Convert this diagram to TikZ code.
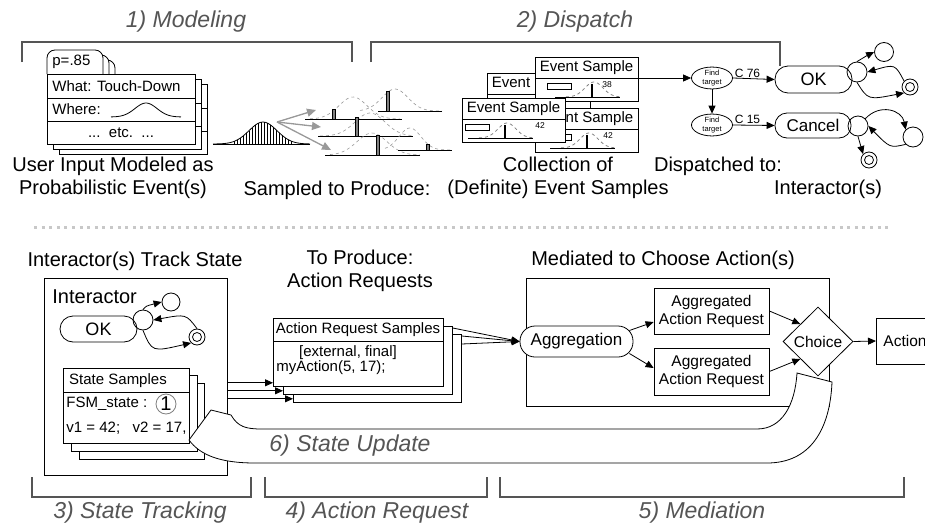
\documentclass[tikz,border=0pt]{standalone}
\usepackage{fontspec}
\setmainfont{Liberation Sans}
\usetikzlibrary{arrows.meta,shapes.geometric,calc}
\definecolor{sec}{HTML}{555555}
\definecolor{dgray}{HTML}{999999}
\definecolor{sepc}{HTML}{C8C8C8}

\newcommand{\gss}[7]{\draw[#7] plot[domain=#5:#6,samples=40,smooth] (\x,{#3-(#3-#2)*exp(-((\x-#1)/#4)*((\x-#1)/#4)/2)});}

% event sample box: name, x, y, number, rect offset, bar offset, number offset
\newcommand{\evsample}[7]{%
  \node[draw,fill=white,minimum width=103pt,minimum height=44pt,inner sep=0,anchor=north west] (#1) at (#2,#3) {};
  \draw (#2,#3+21) -- (#2+103,#3+21);
  \node[txt15,anchor=north] (#1t) at (#2+51.5,#3+3) {Event Sample};
  \draw[line width=0.6pt] (#2+#5,#3+26) rectangle (#2+#5+24,#3+32);
  \begin{scope}[shift={(#2+#6,#3)}]
    \draw[evcurve] plot[domain=-26:30,samples=40,smooth] (\x,{40-15*exp(-((\x-2)/9)*((\x-2)/9)/2)});
  \end{scope}
  \draw (#2+#6-37,#3+40) -- (#2+#6+28,#3+40);
  \draw[line width=2pt] (#2+#6,#3+27) -- (#2+#6,#3+40);
  \node[font=\fontsize{8.5}{8.5}\selectfont,inner sep=0] (#1n) at (#2+#7,#3+28) {#4};
}

% stacked modeling card
\newcommand{\mcard}[2]{%
  \begin{scope}[shift={(#1,#2)}]
    \draw[fill=white,rounded corners=8pt] (47,74) -- (47,50) -- (103,50) -- (103,74);
    \draw[fill=white] (47,74) rectangle (195,144);
    \draw (47,98) -- (195,98) (47,121) -- (195,121);
  \end{scope}}

\begin{document}
\begin{tikzpicture}[x=1pt,y=-1pt,line width=0.8pt,
  seclbl/.style={text=sec,font=\fontsize{23}{26}\selectfont\itshape,inner sep=0},
  captxt/.style={font=\fontsize{20}{23}\selectfont,inner sep=0,align=center},
  brk/.style={draw=sec,line width=1.7pt},
  ar/.style={-{Triangle[length=8pt,width=7pt]}},
  gar/.style={draw=dgray,line width=1.3pt,-{Triangle[length=9pt,width=8pt]}},
  txt15/.style={font=\fontsize{15}{17}\selectfont,inner sep=0},
  stc/.style={draw,circle,inner sep=0},
  pill/.style={draw,fill=white,rounded corners=13pt,inner sep=0},
  sbox/.style={draw,fill=white,inner sep=0},
  evcurve/.style={draw=gray,dashed,line width=0.8pt},
]
\useasboundingbox (0,0) rectangle (925,527);

% ---------------- section labels and brackets (top)
\node[seclbl] (l1) at (186,22) {1) Modeling};
\node[seclbl] (l2) at (575,22) {2) Dispatch};
\draw[brk] (22,62) -- (22,42) -- (352,42) -- (352,62);
\draw[brk] (371,62) -- (371,42) -- (780,42) -- (780,66);

% ---------------- modeling card
\mcard{12}{10}
\mcard{6}{5}
\mcard{0}{0}
\node[txt15,anchor=west] (pval) at (52,62) {p=.85};
\node[txt15,anchor=west] (what) at (52,86) {What: Touch-Down};
\node[txt15,anchor=west] (where) at (52,109.5) {Where:};
\node[txt15] (etc) at (121,132.5) {...\ \ etc.\ \ ...};
\gss{146}{103}{117}{11}{111}{181}{black}
\node[captxt] (userinput) at (113,178) {User Input Modeled as\\Probabilistic Event(s)};

% ---------------- histogram
\draw (213,144) -- (310,144);
\gss{263}{122}{144}{14}{213}{310}{black}
\foreach \xx in {234,237,...,293} \draw[line width=0.6pt] (\xx,144) -- (\xx,{144-22*exp(-((\xx-263)/14)*((\xx-263)/14)/2)});
\coordinate (hsrc) at (277,122);
\coordinate (ht1) at (316,110);
\coordinate (ht2) at (321,127);
\coordinate (ht3) at (331,150);
\draw[gar] (hsrc) -- (ht1);
\draw[gar] (hsrc) -- (ht2);
\draw[gar] (hsrc) -- (ht3);

% sampled distributions
\tikzset{smp/.style={dgray,dashed,line width=0.6pt}, sbar/.style={fill=gray,draw=black,line width=0.5pt}}
\gss{353}{97}{119}{14}{310}{400}{smp}
\draw (305,119) -- (402,119);
\draw[sbar] (332.5,109) rectangle (335.5,119);
\gss{395}{89}{111}{13}{360}{442}{smp}
\draw (378,111) -- (442,111);
\draw[sbar] (386.5,91) rectangle (389.5,111);
\gss{370}{113}{136}{15}{320}{412}{smp}
\draw (318,136) -- (413,136);
\draw[sbar] (355.5,117) rectangle (358.5,136);
\gss{372}{133}{155}{15}{330}{420}{smp}
\draw (325,155) -- (420,155);
\draw[sbar] (376.5,135) rectangle (379.5,155);
\gss{410}{128}{150}{11}{385}{450}{smp}
\draw (398,150) -- (452,150);
\draw[sbar] (426.5,144) rectangle (429.5,150);
\node[captxt] (sampled) at (337,190) {Sampled to Produce:};

% ---------------- event samples
\evsample{evB}{487}{73}{42}{4}{50}{70}
\evsample{evA}{535}{57}{38}{12}{57}{72}
\evsample{evC}{535}{108}{42}{12}{52}{73}
\evsample{evD}{462}{98}{42}{3}{43}{78}
\node[captxt] (collection) at (558,178) {Collection of\\(Definite) Event Samples};

% ---------------- dispatch
\tikzset{fnd/.style={draw,ellipse,minimum width=41pt,minimum height=21pt,inner sep=0,align=center,font=\fontsize{7.5}{8.5}\selectfont}}
\node[fnd] (find1) at (712,78) {Find\\target};
\node[fnd] (find2) at (712,125) {Find\\target};
\node[pill,minimum width=77pt,minimum height=27pt,font=\fontsize{18}{18}\selectfont] (ok) at (813.5,79.5) {OK};
\node[pill,minimum width=76pt,minimum height=25pt,rounded corners=12pt,font=\fontsize{17}{17}\selectfont] (cancel) at (813,125.5) {Cancel};
\draw[ar] ([yshift=-21pt]evA.north east) -- (find1.west);
\draw[ar] (find1.south) -- (find2.north);
\draw[ar] (find1.east) -- node[above,pos=0.35,inner sep=1pt,font=\fontsize{12}{12}\selectfont] (c76) {C 76} (ok.west);
\draw[ar] (find2.east) -- node[above,pos=0.35,inner sep=1pt,font=\fontsize{12}{12}\selectfont] (c15) {C 15} (cancel.west);

% OK fsm (top)
\node[stc,minimum size=20pt] (a0) at (857,72) {};
\node[stc,minimum size=19pt] (a1) at (884,52) {};
\node[stc,minimum size=16pt] (a2) at (910,87) {};
\draw (a2.center) circle (4.5);
\draw[ar] (a0.north) .. controls (862,58) .. (a1.west);
\draw[ar] (a2.north west) .. controls (895,64) .. (a0.east);
\draw[ar] (a0.south) .. controls (868,100) .. (a2.south west);

% Cancel fsm (top)
\node[stc,minimum size=20pt] (b0) at (858,126) {};
\node[stc,minimum size=20pt] (b1) at (913,137) {};
\node[stc,minimum size=16pt] (b2) at (869,160) {};
\draw (b2.center) circle (4.5);
\draw[ar] (b0.north east) .. controls (880,103) and (902,110) .. (b1.north west);
\draw[ar] (b1.south west) .. controls (890,148) .. (b0.east);
\draw[ar] (b0.south) -- (b2.north west);

\node[captxt] (dispatched) at (718,166) {Dispatched to:};
\node[captxt] (interactors) at (828,189) {Interactor(s)};

% ---------------- separator
\draw[sepc,line width=3pt,dash pattern=on 3pt off 4.6pt] (34,227) -- (888,227);

% ---------------- state tracking
\node[captxt] (trackstate) at (135,261) {Interactor(s) Track State};
\node[draw,minimum width=183pt,minimum height=197pt,inner sep=0,anchor=north west] (ibox) at (44,278) {};
\node[inner sep=0,anchor=west,font=\fontsize{20}{20}\selectfont] (interactor) at (52,297) {Interactor};
\node[pill,minimum width=77pt,minimum height=26pt,font=\fontsize{18}{18}\selectfont] (ok2) at (98.5,329) {OK};
\node[stc,minimum size=20pt] (c0) at (143,320) {};
\node[stc,minimum size=18pt] (c1) at (171,302) {};
\node[stc,minimum size=16pt] (c2) at (197,337) {};
\draw (c2.center) circle (4.5);
\draw[ar] (c0.north) .. controls (146,306) .. (c1.west);
\draw[ar] (c2.north) .. controls (186,314) .. (c0.east);
\draw[ar] (c0.south) .. controls (152,352) .. (c2.south west);

% state samples stack
\node[sbox,minimum width=125pt,minimum height=76pt,anchor=north west] (ss3) at (79,383) {};
\node[sbox,minimum width=126pt,minimum height=76pt,anchor=north west] (ss2) at (71,375) {};
\node[sbox,minimum width=126pt,minimum height=75pt,anchor=north west] (ss1) at (63,368) {};
\draw (ss1.north west) ++(0,-24pt) -- ++(126pt,0);
\node[txt15] (sstitle) at (118,381) {State Samples};
\node[txt15,anchor=west] (fsm) at (66,404) {FSM\_state :};
\node[draw=gray,circle,minimum size=20pt,inner sep=0,font=\fontsize{20}{20}\selectfont] (one) at (166,404) {1};
\node[txt15,anchor=west] (vals) at (66,428) {v1 = 42;\ \ \ v2 = 17,};

% ---------------- action requests
\node[captxt] (toproduce) at (360,271) {To Produce:\\Action Requests};
\node[sbox,minimum width=168pt,minimum height=68pt,anchor=north west] (ars3) at (293,334) {};
\node[sbox,minimum width=169pt,minimum height=68pt,anchor=north west] (ars2) at (283,326) {};
\node[sbox,minimum width=170pt,minimum height=68pt,anchor=north west] (ars1) at (273,318) {};
\draw (ars1.north west) ++(0,-23pt) -- ++(170pt,0);
\node[txt15] (arstitle) at (358,330) {Action Request Samples};
\node[txt15] (extfinal) at (348,353) {[external, final]};
\node[txt15,anchor=west] (myaction) at (276,368) {myAction(5, 17);};

\coordinate (t1) at ([yshift=4pt]ars1.south west);
\coordinate (t2) at ([yshift=4pt]ars2.south west);
\coordinate (t3) at ([yshift=4pt]ars3.south west);
\draw[ar] (ibox.east |- t1) -- (t1);
\draw[ar] (ibox.east |- t2) -- (t2);
\draw[ar] (ibox.east |- t3) -- (t3);

% ---------------- mediation
\node[captxt] (mediated) at (663,260) {Mediated to Choose Action(s)};
\node[draw,minimum width=303pt,minimum height=128pt,inner sep=0,anchor=north west] (mbox) at (526,278) {};
\node[pill,minimum width=113pt,minimum height=31pt,rounded corners=15pt,font=\fontsize{17}{17}\selectfont] (agg) at (576.5,341.5) {Aggregation};
\node[sbox,minimum width=115pt,minimum height=46pt,align=center,font=\fontsize{15.5}{18}\selectfont] (aar1) at (711.5,311) {Aggregated\\Action Request};
\node[sbox,minimum width=115pt,minimum height=47pt,align=center,font=\fontsize{15.5}{18}\selectfont] (aar2) at (711.5,371.5) {Aggregated\\Action Request};
\node[draw,fill=white,diamond,aspect=1,minimum width=70pt,minimum height=69pt,inner sep=0,font=\fontsize{15.5}{15.5}\selectfont] (choice) at (818,341.5) {Choice};
\node[draw,fill=white,minimum width=90pt,minimum height=46pt,inner sep=0,anchor=west] (action) at (876,341) {};
\node[inner sep=0,anchor=west,font=\fontsize{15.5}{15.5}\selectfont] (actiont) at (883,341) {Action};

\draw[ar] ([yshift=-2pt]ars2.north east) -- (agg.west);
\draw[ar] ([yshift=-2pt]ars3.north east) -- (agg.west);
\draw[ar] ([yshift=-10pt]ars3.north east) -- (agg.west);
\draw[ar] ([xshift=-4pt,yshift=11pt]agg.east) -- ([yshift=-11pt]aar1.west);
\draw[ar] ([xshift=-4pt,yshift=-12pt]agg.east) -- ([yshift=3.5pt]aar2.west);
\draw[ar] (aar1.east) -- (choice.north west);
\draw[ar] (aar2.east) -- (choice.south west);
\draw[ar] (choice.east) -- (action.west);

% ---------------- state update band
\draw[fill=white] (189,440) -- (211,410) -- (231,415)
  .. controls (238,427) and (246,429) .. (262,429) -- (757,429)
  .. controls (782,429) and (795,405) .. (797,373) -- (832,382)
  .. controls (830,430) and (810,463) .. (767,463) -- (255,463)
  .. controls (220,463) and (200,455) .. (189,440) -- cycle;
\node[seclbl] (update) at (350,446) {6) State Update};

% ---------------- bottom brackets
\draw[brk] (32,477) -- (32,497) -- (251,497) -- (251,477);
\draw[brk] (265,477) -- (265,497) -- (487,497) -- (487,477);
\draw[brk] (500,477) -- (500,497) -- (904,497) -- (904,477);
\node[seclbl] (l3) at (140,513) {3) State Tracking};
\node[seclbl] (l4) at (377,513) {4) Action Request};
\node[seclbl] (l5) at (702,513) {5) Mediation};
\end{tikzpicture}
\end{document}
